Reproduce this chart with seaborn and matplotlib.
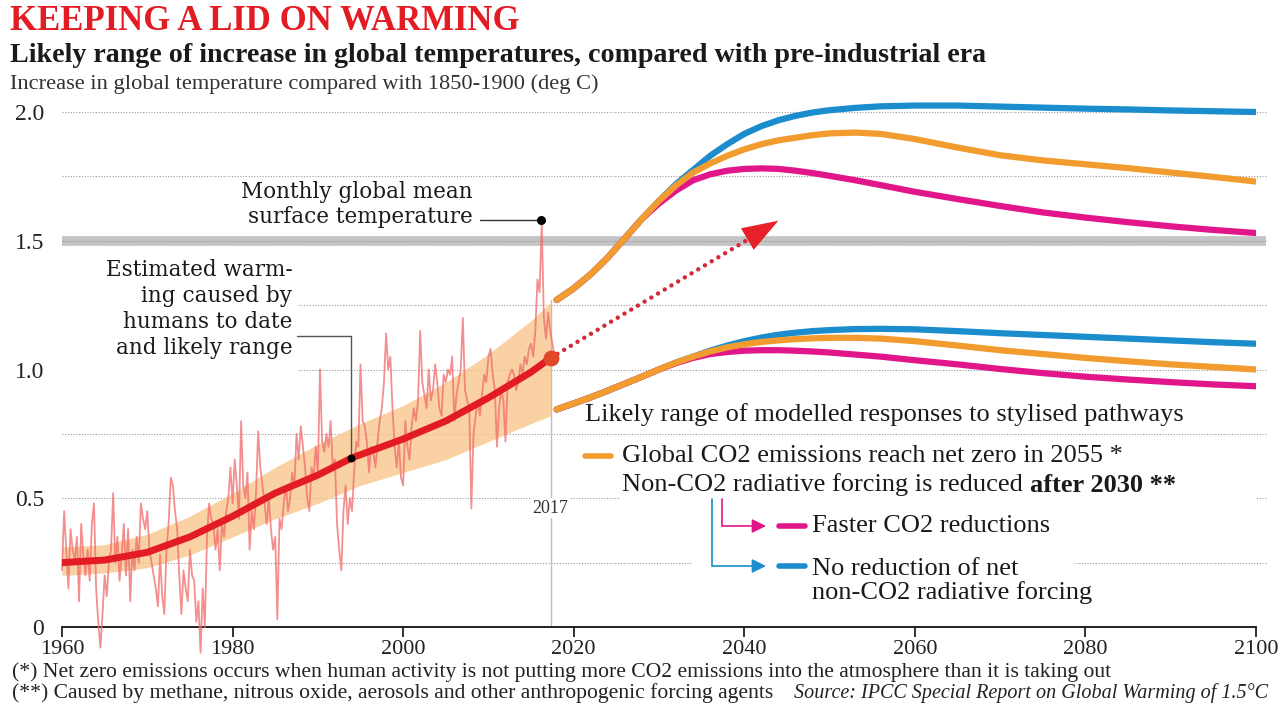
import numpy as np
import matplotlib
matplotlib.use('Agg')
import matplotlib.pyplot as plt
from matplotlib.lines import Line2D
from matplotlib.patches import Rectangle
import seaborn as sns

# Monthly global mean surface temperature (4 readings per year, 1960-2017)
monthly_temp = [
    0.22, 0.45, 0.30, 0.15,  0.38, 0.30, 0.26, 0.35,  0.10, 0.40, 0.28, 0.20,
    0.30, 0.18, 0.40, 0.48,  0.15, 0.02, -0.08, 0.05, 0.20, 0.12, 0.25, 0.30,
    0.52, 0.25, 0.35, 0.18,  0.28, 0.40, 0.20, 0.38,  0.10, 0.30, 0.22, 0.35,
    0.25, 0.48, 0.42, 0.38,  0.45, 0.30, 0.25, 0.20,  0.15, 0.08, 0.28, 0.12,
    0.05, 0.30, 0.40, 0.58,  0.55, 0.45, 0.38, 0.20,  0.05, 0.22, 0.15, 0.10,
    0.30, 0.20, 0.18, 0.02,  0.10, -0.10, 0.15, 0.00, 0.35, 0.48, 0.42, 0.40,
    0.30, 0.38, 0.22, 0.40,  0.35, 0.45, 0.50, 0.62,  0.48, 0.65, 0.55, 0.42,
    0.80, 0.55, 0.50, 0.60,  0.30, 0.45, 0.38, 0.52,  0.76, 0.62, 0.55, 0.48,
    0.40, 0.50, 0.38, 0.30,  0.35, 0.03, 0.42, 0.38,  0.48, 0.55, 0.45, 0.50,
    0.60, 0.55, 0.75, 0.65,  0.78, 0.70, 0.62, 0.50,  0.45, 0.62, 0.58, 0.70,
    0.60, 1.00, 0.72, 0.68,  0.75, 0.70, 0.80, 0.62,  0.65, 0.40, 0.30, 0.22,
    0.45, 0.55, 0.40, 0.50,  0.45, 0.60, 0.72, 0.70,  1.02, 0.80, 0.78, 0.72,
    0.60, 0.70, 0.68, 0.62,  0.72, 0.80, 0.85, 0.95,  1.14, 1.00, 1.05, 0.85,
    0.70, 0.62, 0.72, 0.58,  0.55, 0.80, 0.70, 0.65,  0.78, 0.85, 0.80, 0.88,
    1.15, 0.95, 0.90, 0.85,  1.00, 0.88, 0.92, 1.02,  0.95, 0.85, 0.82, 0.98,
    0.95, 1.00, 0.98, 1.05,  0.80, 0.90, 0.95, 1.00,  1.20, 0.92, 0.88, 0.85,
    0.46, 0.75, 0.82, 0.88,  0.82, 0.90, 0.98, 0.95,  1.05, 1.08, 0.98, 0.92,
    0.70, 0.85, 0.92, 0.88,  0.72, 0.95, 0.98, 1.00,  0.98, 0.92, 0.95, 1.02,
    0.98, 1.05, 1.02, 1.08,  1.10, 1.05, 1.15, 1.35,  1.30, 1.57, 1.20, 1.12,
    1.22, 1.15, 1.10, 1.05,
]
monthly_start = 1960

# Human-induced warming and its likely range
hw_years = [1960, 1965, 1970, 1975, 1980, 1985, 1990, 1994, 2000, 2005, 2010, 2015, 2017.3]
hw_mid = [0.25, 0.26, 0.29, 0.35, 0.43, 0.52, 0.59, 0.657, 0.73, 0.80, 0.89, 0.99, 1.045]
band_years = [1960, 1965, 1970, 1975, 1980, 1985, 1990, 1995, 2000, 2005, 2010, 2015, 2017.3]
band_low = [0.20, 0.21, 0.23, 0.28, 0.35, 0.42, 0.48, 0.55, 0.60, 0.65, 0.72, 0.79, 0.82]
band_high = [0.31, 0.32, 0.36, 0.43, 0.52, 0.62, 0.71, 0.79, 0.86, 0.95, 1.06, 1.19, 1.26]

# Modelled pathways (upper and lower edge of likely range)
scen_years = [2018, 2020, 2022, 2024, 2026, 2028, 2030, 2032, 2034, 2036, 2038, 2040, 2042,
              2044, 2046, 2048, 2050, 2053, 2056, 2060, 2065, 2070, 2075, 2080, 2085, 2090,
              2095, 2100]
up_orange = [1.27, 1.315, 1.37, 1.435, 1.51, 1.585, 1.655, 1.715, 1.765, 1.80, 1.83, 1.855,
             1.875, 1.89, 1.90, 1.91, 1.917, 1.92, 1.915, 1.895, 1.862, 1.832, 1.812, 1.797,
             1.782, 1.765, 1.748, 1.73]
up_blue = [1.27, 1.315, 1.37, 1.435, 1.51, 1.585, 1.655, 1.72, 1.775, 1.83, 1.875, 1.915,
           1.945, 1.968, 1.985, 1.998, 2.007, 2.016, 2.022, 2.025, 2.025, 2.021, 2.017, 2.013,
           2.01, 2.006, 2.003, 2.0]
up_magenta = [1.27, 1.315, 1.37, 1.435, 1.51, 1.585, 1.645, 1.695, 1.735, 1.758, 1.772, 1.779,
              1.781, 1.779, 1.772, 1.763, 1.752, 1.735, 1.716, 1.69, 1.662, 1.635, 1.61, 1.59,
              1.572, 1.556, 1.542, 1.53]
lo_orange = [0.845, 0.868, 0.892, 0.918, 0.945, 0.972, 1.0, 1.027, 1.05, 1.07, 1.086, 1.098,
             1.107, 1.113, 1.118, 1.121, 1.123, 1.123, 1.12, 1.11, 1.093, 1.075, 1.06, 1.045,
             1.032, 1.02, 1.01, 1.0]
lo_blue = [0.845, 0.868, 0.892, 0.918, 0.945, 0.972, 1.0, 1.027, 1.05, 1.073, 1.093, 1.11,
           1.124, 1.135, 1.143, 1.149, 1.153, 1.157, 1.158, 1.156, 1.149, 1.141, 1.134, 1.127,
           1.12, 1.113, 1.106, 1.10]
lo_magenta = [0.845, 0.868, 0.892, 0.918, 0.945, 0.972, 1.0, 1.025, 1.045, 1.06, 1.068, 1.073,
              1.075, 1.075, 1.073, 1.07, 1.066, 1.058, 1.05, 1.036, 1.02, 1.002, 0.986, 0.972,
              0.961, 0.951, 0.942, 0.935]

y_ticks = [0, 0.5, 1.0, 1.5, 2.0]
y_ticklabels = ['0', '0.5', '1.0', '1.5', '2.0']
x_ticks = [1960, 1980, 2000, 2020, 2040, 2060, 2080, 2100]
grid_levels = [0.25, 0.5, 0.75, 1.0, 1.25, 1.5, 1.75, 2.0]

RED = '#e31b23'
ORANGE = '#f29b2e'
BLUE = '#1b8ccc'
MAGENTA = '#e2168b'
TXT = '#1a1a1a'

sns.set_theme(style='white')
plt.rcParams['font.family'] = ['Liberation Serif', 'DejaVu Serif']


def fx(px):
    return px / 1280


def fy(py):
    return 1 - py / 720


fig = plt.figure(figsize=(12.8, 7.2), dpi=100)
ax = fig.add_axes([fx(62), fy(627), (1256 - 62) / 1280, (627 - 86.25) / 720])
ax.set_xlim(1960, 2100)
ax.set_ylim(0, 2.1)

# grid
for g in grid_levels:
    if g == 1.5:
        ax.plot([1960, 2101.2], [g, g], color='#c4c4c4', lw=7, solid_capstyle='butt',
                clip_on=False, zorder=1)
    ax.plot([1960, 2101.2], [g, g], color='#9a9a9a', lw=0.8, ls=(0, (1, 1.5)),
            clip_on=False, zorder=1)

# white boxes behind the text blocks
ax.add_patch(Rectangle((1960, 0.96), 27.6, 0.33, color='white', zorder=1.5, clip_on=False))
ax.add_patch(Rectangle((2025.4, 0.47), 74.6, 0.06, color='white', zorder=1.5))
ax.add_patch(Rectangle((2034.0, 0.22), 44.6, 0.06, color='white', zorder=1.5))

# 2017 marker line
ax.plot([2017.3, 2017.3], [0, 1.27], color='#bdbdbd', lw=1, zorder=1.6)

# likely range of human-induced warming
ax.fill_between(band_years, band_low, band_high, color='#f8c68c', alpha=0.8, lw=0, zorder=2)

# monthly temperatures
months = monthly_start + np.arange(len(monthly_temp)) / 4
sns.lineplot(x=months, y=monthly_temp, ax=ax, color='#f06a6a', lw=1.3, alpha=0.75,
             clip_on=False, zorder=3)

# estimated human-induced warming
sns.lineplot(x=hw_years, y=hw_mid, ax=ax, color=RED, lw=5, solid_capstyle='round', zorder=4)
ax.scatter([hw_years[-1]], [hw_mid[-1]], s=130, color='#e0482a', zorder=6, lw=0)

# pathways
for series, col in [(up_blue, BLUE), (lo_blue, BLUE), (up_magenta, MAGENTA),
                    (lo_magenta, MAGENTA), (up_orange, ORANGE), (lo_orange, ORANGE)]:
    sns.lineplot(x=scen_years, y=series, ax=ax, color=col, lw=4.5,
                 solid_capstyle='round', zorder=5)

# dotted arrow towards 1.5
ax.plot([2017.3, 2042.2], [1.045, 1.54], color='#d42a35', lw=3.2,
        ls=(0, (0.01, 1.75)), dash_capstyle='round', zorder=5)
ax.annotate('', xy=(2044.0, 1.578), xytext=(2041.3, 1.525),
            arrowprops=dict(arrowstyle='-|>,head_length=1.3,head_width=0.45',
                            color='#e8202a', lw=0, shrinkA=0, shrinkB=0, mutation_scale=20),
            zorder=6)

# annotations
ax.plot([2009.0, 2016.2], [1.58, 1.58], color='#333333', lw=1, zorder=6)
ax.scatter([2016.2], [1.58], s=30, color='black', zorder=7)
ax.text(2008.2, 1.64, 'Monthly global mean\nsurface temperature', ha='right', va='center',
        fontsize=15.5, family=['DejaVu Serif'], color=TXT, linespacing=1.15, zorder=7)

ax.plot([1987.6, 1993.9, 1993.9], [1.13, 1.13, 0.656], color='#555555', lw=1, zorder=6)
ax.scatter([1993.9], [0.656], s=22, color='black', zorder=7)
ax.text(1987.0, 1.235, 'Estimated warm-\ning caused by\nhumans to date\nand likely range',
        ha='right', va='center', fontsize=15.5, family=['DejaVu Serif'], color=TXT,
        linespacing=1.22, zorder=7)

ax.text(2017.3, 0.462, '2017', ha='center', va='center', fontsize=13, color='#333333',
        bbox=dict(facecolor='white', edgecolor='none', pad=1), zorder=7)

# axes styling
for side in ['left', 'right', 'top']:
    ax.spines[side].set_visible(False)
ax.spines['bottom'].set_color('#111111')
ax.spines['bottom'].set_linewidth(1.3)
ax.set_yticks(y_ticks)
ax.set_yticklabels(y_ticklabels)
ax.set_xticks(x_ticks)
ax.tick_params(axis='y', length=0, pad=13, labelsize=17, labelcolor='#222222')
ax.tick_params(axis='x', length=7, width=1.2, direction='out', color='#111111',
               pad=2, labelsize=16, labelcolor='#222222', bottom=True)
ax.set_xlabel('')
ax.set_ylabel('')
ax.grid(False)

# titles
fig.text(fx(10), fy(22), 'KEEPING A LID ON WARMING', fontsize=25, fontweight='bold',
         color=RED, va='center', ha='left')
fig.text(fx(10), fy(56), 'Likely range of increase in global temperatures, compared with pre-industrial era',
         fontsize=20.2, fontweight='bold', color=TXT, va='center', ha='left')
fig.text(fx(10), fy(84), 'Increase in global temperature compared with 1850-1900 (deg C)',
         fontsize=16.1, color='#333333', va='center', ha='left')

# legend block
FS = 19
fig.text(fx(585), fy(415), 'Likely range of modelled responses to stylised pathways',
         fontsize=FS, color=TXT, va='center', ha='left')
fig.add_artist(Line2D([fx(585), fx(611)], [fy(456), fy(456)], color=ORANGE, lw=4,
                      solid_capstyle='round'))
fig.text(fx(622), fy(456), 'Global CO2 emissions reach net zero in 2055 *',
         fontsize=FS, color=TXT, va='center', ha='left')
t1 = fig.text(fx(622), fy(485), 'Non-CO2 radiative forcing is reduced ',
              fontsize=FS, color=TXT, va='center', ha='left')
renderer = fig.canvas.get_renderer()
bb = t1.get_window_extent(renderer=renderer)
fig.text(bb.x1 / fig.bbox.width, fy(485), 'after 2030 **', fontsize=FS,
         fontweight='bold', color=TXT, va='center', ha='left')

for xv, yv, col in [(722, 526, MAGENTA), (712, 566, BLUE)]:
    fig.add_artist(Line2D([fx(xv), fx(xv)], [fy(499), fy(yv)], color=col, lw=1.2))
    ax.annotate('', xy=(fx(766), fy(yv)), xycoords='figure fraction',
                xytext=(fx(xv), fy(yv)), textcoords='figure fraction',
                arrowprops=dict(arrowstyle='-|>,head_length=0.6,head_width=0.3', color=col,
                                lw=1.2, shrinkA=0, shrinkB=0, mutation_scale=14))
    fig.add_artist(Line2D([fx(779), fx(805)], [fy(yv), fy(yv)], color=col, lw=4,
                          solid_capstyle='round'))

fig.text(fx(812), fy(526), 'Faster CO2 reductions', fontsize=FS, color=TXT,
         va='center', ha='left')
fig.text(fx(812), fy(581), 'No reduction of net\nnon-CO2 radiative forcing', fontsize=FS,
         color=TXT, va='center', ha='left', linespacing=1.05)

# footnotes
fig.text(fx(12), fy(672), '(*) Net zero emissions occurs when human activity is not putting more CO2 '
         'emissions into the atmosphere than it is taking out', fontsize=15.6, color='#222222',
         va='center', ha='left')
fig.text(fx(12), fy(693), '(**) Caused by methane, nitrous oxide, aerosols and other anthropogenic '
         'forcing agents', fontsize=15.6, color='#222222', va='center', ha='left')
fig.text(fx(1268), fy(693), 'Source: IPCC Special Report on Global Warming of 1.5°C',
         fontsize=14.5, style='italic', color='#222222', va='center', ha='right')

fig.savefig('out.png', dpi=100)
